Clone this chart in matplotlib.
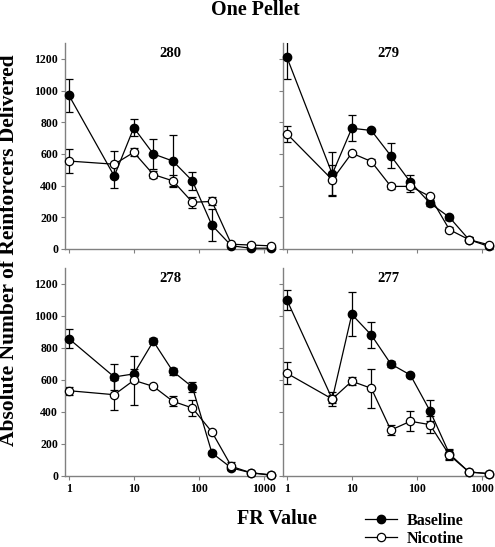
import matplotlib
matplotlib.use('Agg')
import matplotlib.pyplot as plt

plt.rcParams['font.family'] = ['Liberation Serif', 'DejaVu Serif']
plt.rcParams['font.weight'] = 'bold'

# FR schedule values (x axis)
fr = [1, 5, 10, 20, 40, 80, 160, 320, 640, 1280]

# rat 280
base_280 = [970, 460, 765, 600, 555, 430, 150, 20, 5, 5]
base_280_err = [105, 75, 55, 95, 165, 55, 100, 10, 5, 3]
nic_280 = [555, 535, 610, 470, 430, 295, 300, 30, 25, 20]
nic_280_err = [75, 85, 25, 25, 35, 35, 25, 10, 15, 8]

# rat 279
base_279 = [1210, 473, 762, 748, 588, 422, 290, 200, 59, 17]
base_279_err = [135, 140, 82, 10, 78, 45, 20, 15, 15, 5]
nic_279 = [727, 437, 605, 552, 395, 395, 332, 122, 59, 27]
nic_279_err = [52, 95, 10, 15, 15, 38, 10, 15, 15, 5]

# rat 278
base_278 = [858, 619, 638, 842, 654, 556, 144, 50, 20, 5]
base_278_err = [60, 80, 30, 20, 20, 30, 10, 15, 5, 3]
nic_278 = [533, 508, 598, 560, 467, 425, 275, 60, 20, 8]
nic_278_err = [25, 95, 155, 10, 30, 50, 15, 25, 5, 3]

# rat 277
base_277 = [1100, 481, 1010, 881, 700, 631, 408, 138, 25, 15]
base_277_err = [62, 25, 138, 82, 20, 10, 65, 30, 5, 5]
nic_277 = [642, 481, 592, 548, 287, 342, 321, 130, 25, 15]
nic_277_err = [70, 45, 25, 120, 30, 62, 55, 30, 5, 5]

yticks = [0, 200, 400, 600, 800, 1000, 1200]
xticks = [1, 10, 100, 1000]
xticklabels = ['1', '10', '100', '1000']

panels = [
    ('280', base_280, base_280_err, nic_280, nic_280_err, [0.1313, 0.5448, 0.4242, 0.3766], False, True),
    ('279', base_279, base_279_err, nic_279, nic_279_err, [0.5717, 0.5448, 0.4242, 0.3766], False, False),
    ('278', base_278, base_278_err, nic_278, nic_278_err, [0.1313, 0.1298, 0.4242, 0.3803], True, True),
    ('277', base_277, base_277_err, nic_277, nic_277_err, [0.5717, 0.1298, 0.4242, 0.3803], True, False),
]

fig = plt.figure(figsize=(4.95, 5.47), dpi=100)
spine_col = '#808080'

for rat, b, be, n, ne, pos, xlab, ylab in panels:
    ax = fig.add_axes(pos)
    ax.errorbar(fr, b, yerr=be, fmt='none', ecolor='black', elinewidth=0.9,
                capsize=3, capthick=0.9, zorder=2)
    ax.errorbar(fr, n, yerr=ne, fmt='none', ecolor='black', elinewidth=0.9,
                capsize=3, capthick=0.9, zorder=2)
    lb, = ax.plot(fr, b, '-o', color='black', mfc='black', mec='black', ms=6,
                  lw=0.9, clip_on=False, zorder=3, label='Baseline')
    ln, = ax.plot(fr, n, '-o', color='black', mfc='white', mec='black', ms=6,
                  mew=0.9, lw=0.9, clip_on=False, zorder=4, label='Nicotine')
    ax.set_xscale('log')
    ax.set_xlim(0.87, 1500)
    ax.set_ylim(0, 1300)
    ax.set_xticks(xticks)
    ax.minorticks_off()
    ax.set_yticks(yticks)
    if xlab:
        ax.set_xticklabels(xticklabels)
    else:
        ax.set_xticklabels([])
    if ylab:
        ax.set_yticklabels([str(v) for v in yticks])
    else:
        ax.set_yticklabels([])
    for s in ['top', 'right']:
        ax.spines[s].set_visible(False)
    for s in ['left', 'bottom']:
        ax.spines[s].set_color(spine_col)
        ax.spines[s].set_linewidth(1.0)
    ax.tick_params(direction='out', length=3, width=0.8, color=spine_col,
                   labelsize=8.5, pad=2)
    for lab in ax.get_xticklabels() + ax.get_yticklabels():
        lab.set_fontweight('bold')
    ax.text(0.5, 0.95, rat, transform=ax.transAxes, ha='center', va='center',
            fontsize=10.5, fontweight='bold')

fig.text(0.515, 1.0, 'One Pellet', ha='center', va='top', fontsize=14.5, fontweight='bold')
fig.text(0.56, 0.051, 'FR Value', ha='center', va='center', fontsize=14.5, fontweight='bold')
fig.text(0.018, 0.543, 'Absolute Number of Reinforcers Delivered', ha='center', va='center',
         rotation=90, fontsize=15.5, fontweight='bold')

fig.legend(handles=[lb, ln], loc='upper left', bbox_to_anchor=(0.737, 0.063),
           frameon=False, fontsize=11.5, handlelength=2.0, handletextpad=0.6,
           labelspacing=0.15, borderaxespad=0, borderpad=0)

fig.savefig('out.png', dpi=100)
